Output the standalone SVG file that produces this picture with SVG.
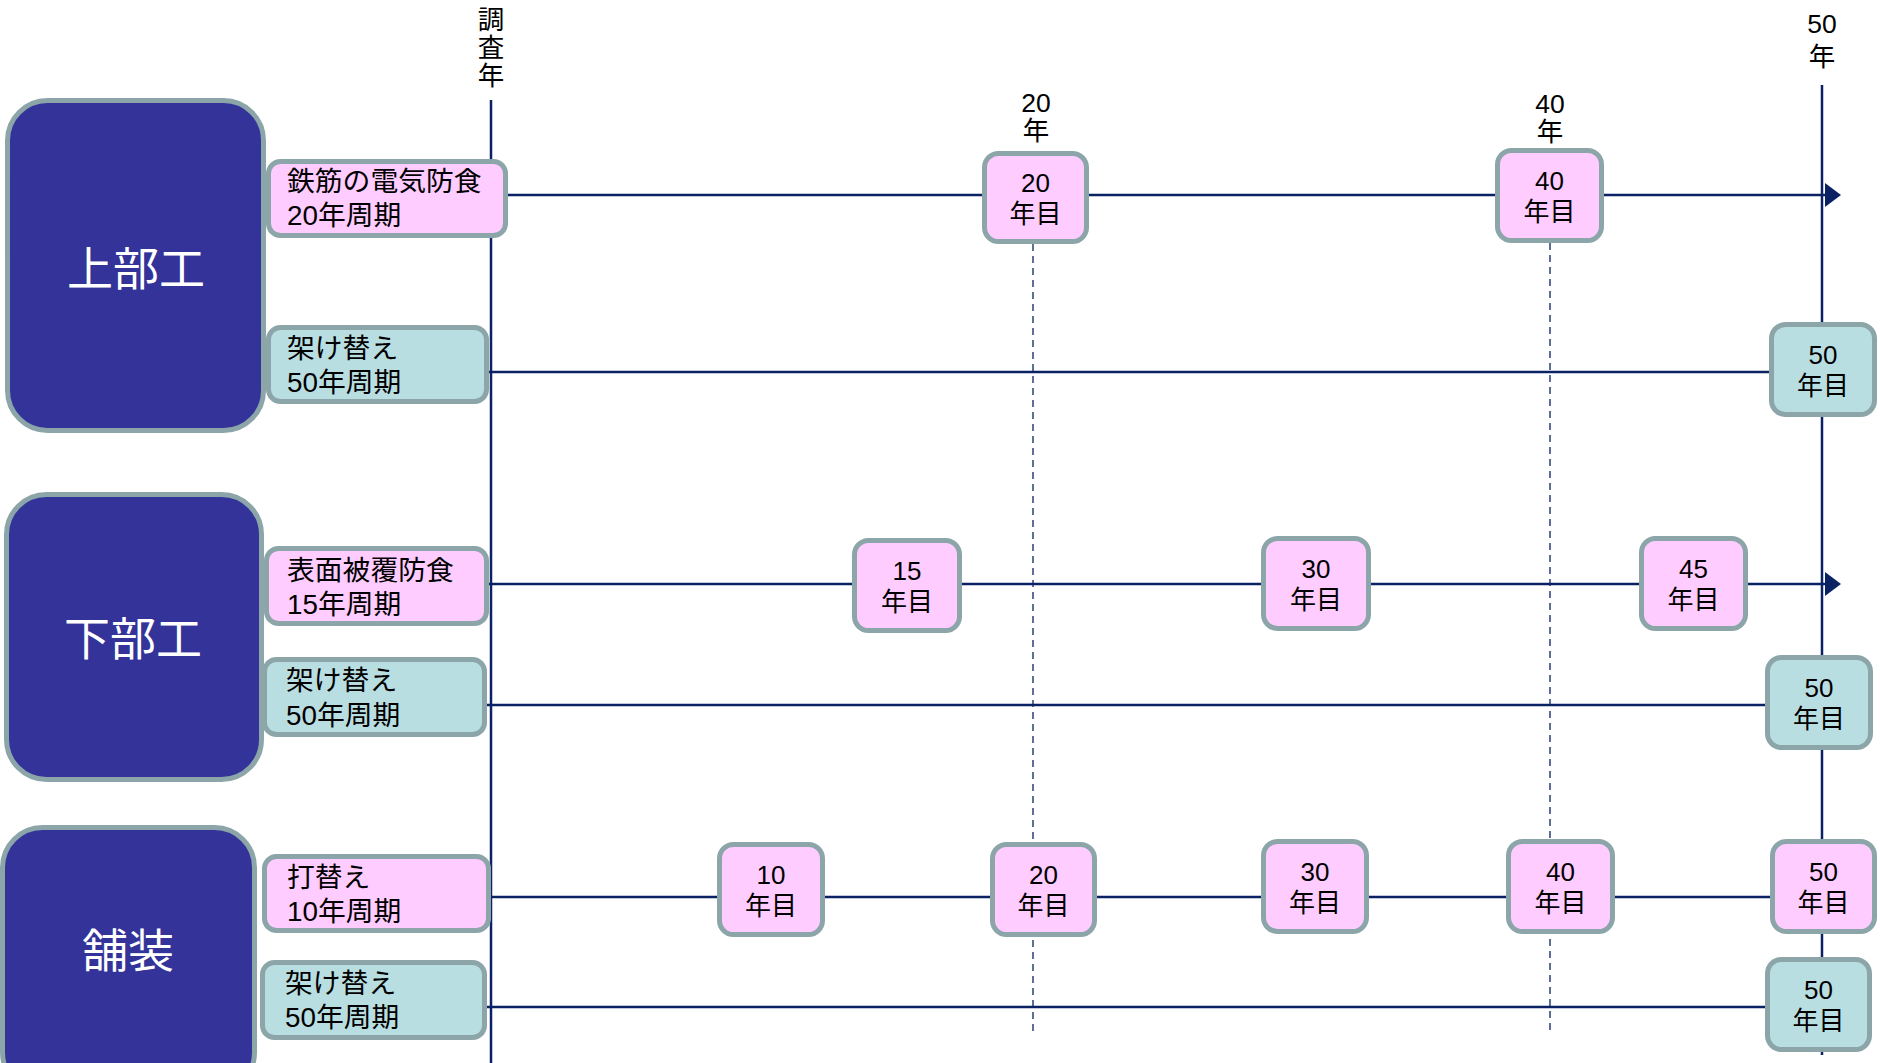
<svg xmlns="http://www.w3.org/2000/svg" width="1880" height="1063" viewBox="0 0 1880 1063">
<style>
text{font-family:"Liberation Sans","Noto Sans CJK JP",sans-serif;fill:#000}
.big rect{fill:#333399;stroke:#8CA5A8;stroke-width:5}
.big text{fill:#fff;font-size:46px;text-anchor:middle}
.pk rect{fill:#FFCCFF;stroke:#8CA5A8;stroke-width:5}
.bl rect{fill:#B9DEE2;stroke:#8CA5A8;stroke-width:5}
.lbl text{font-size:27.8px}
.yr text{font-size:26px;text-anchor:middle}
.top text{font-size:26.5px;text-anchor:middle}
.ln{stroke:#0A2264;stroke-width:2.5;fill:none}
.dash{stroke:#0A2264;stroke-width:1.3;stroke-dasharray:7 5;fill:none}
</style>
<defs>
<marker id="arr" markerUnits="userSpaceOnUse" markerWidth="17" markerHeight="26" refX="0" refY="12" orient="auto">
<path d="M0,0 L16,12 L0,24 z" fill="#0A2264"/>
</marker>
</defs>
<rect width="1880" height="1063" fill="#fff"/>

<g id="axis-labels" class="top">
<text x="491" y="29" font-size="22">調</text>
<text x="491" y="57" font-size="22">査</text>
<text x="491" y="85" font-size="22">年</text>
<text x="1036" y="112">20</text>
<text x="1036" y="140">年</text>
<text x="1550" y="113">40</text>
<text x="1550" y="141">年</text>
<text x="1822" y="33">50</text>
<text x="1822" y="66">年</text>
</g>

<g id="connectors">
<line class="ln" x1="491" y1="100" x2="491" y2="1063"/>
<line class="ln" x1="1822" y1="85" x2="1822" y2="1055"/>
<line class="dash" x1="1033" y1="244" x2="1033" y2="1033"/>
<line class="dash" x1="1550" y1="243" x2="1550" y2="1033"/>
<line class="ln" x1="506" y1="195" x2="1825" y2="195" marker-end="url(#arr)"/>
<line class="ln" x1="487" y1="372" x2="1771" y2="372"/>
<line class="ln" x1="487" y1="584" x2="1825" y2="584" marker-end="url(#arr)"/>
<line class="ln" x1="485" y1="705" x2="1767" y2="705"/>
<line class="ln" x1="489" y1="897" x2="1772" y2="897"/>
<line class="ln" x1="485" y1="1007" x2="1767" y2="1007"/>
</g>

<g id="n-jobu" class="big">
<rect x="7.5" y="100.5" width="256" height="330" rx="40"/>
<text x="136" y="285">上部工</text>
</g>
<g id="n-kabu" class="big">
<rect x="6.5" y="494.5" width="255" height="285" rx="40"/>
<text x="133" y="655">下部工</text>
</g>
<g id="n-hoso" class="big">
<rect x="2.5" y="827.5" width="252" height="265" rx="40"/>
<text x="128" y="967">舗装</text>
</g>

<g id="n-denki" class="pk lbl">
<rect x="268.5" y="161.5" width="237" height="74" rx="12"/>
<text x="287" y="191">鉄筋の電気防食</text>
<text x="287" y="225">20年周期</text>
</g>
<g id="n-kakekae1" class="bl lbl">
<rect x="268.5" y="327.5" width="218" height="74" rx="12"/>
<text x="287" y="358">架け替え</text>
<text x="287" y="392">50年周期</text>
</g>
<g id="n-hifuku" class="pk lbl">
<rect x="266.5" y="548.5" width="220" height="75" rx="12"/>
<text x="287" y="580">表面被覆防食</text>
<text x="287" y="614">15年周期</text>
</g>
<g id="n-kakekae2" class="bl lbl">
<rect x="264.5" y="659.5" width="220" height="75" rx="12"/>
<text x="286" y="690">架け替え</text>
<text x="286" y="725">50年周期</text>
</g>
<g id="n-uchikae" class="pk lbl">
<rect x="264.5" y="856.5" width="224" height="74" rx="12"/>
<text x="287" y="887">打替え</text>
<text x="287" y="921">10年周期</text>
</g>
<g id="n-kakekae3" class="bl lbl">
<rect x="262.5" y="962.5" width="222" height="75" rx="12"/>
<text x="285" y="993">架け替え</text>
<text x="285" y="1027">50年周期</text>
</g>

<g id="r1-20" class="pk yr">
<rect x="984.5" y="153.5" width="102" height="88" rx="14"/>
<text x="1035.5" y="192">20</text>
<text x="1035.5" y="223">年目</text>
</g>
<g id="r1-40" class="pk yr">
<rect x="1497.5" y="150.5" width="104" height="90" rx="14"/>
<text x="1549.5" y="190">40</text>
<text x="1549.5" y="221">年目</text>
</g>
<g id="r2-50" class="bl yr">
<rect x="1771.5" y="324.5" width="103" height="90" rx="14"/>
<text x="1823" y="364">50</text>
<text x="1823" y="395">年目</text>
</g>
<g id="r3-15" class="pk yr">
<rect x="854.5" y="540.5" width="105" height="90" rx="14"/>
<text x="907" y="580">15</text>
<text x="907" y="611">年目</text>
</g>
<g id="r3-30" class="pk yr">
<rect x="1263.5" y="538.5" width="105" height="90" rx="14"/>
<text x="1316" y="578">30</text>
<text x="1316" y="609">年目</text>
</g>
<g id="r3-45" class="pk yr">
<rect x="1641.5" y="538.5" width="104" height="90" rx="14"/>
<text x="1693.5" y="578">45</text>
<text x="1693.5" y="609">年目</text>
</g>
<g id="r4-50" class="bl yr">
<rect x="1767.5" y="657.5" width="103" height="90" rx="14"/>
<text x="1819" y="697">50</text>
<text x="1819" y="728">年目</text>
</g>
<g id="r5-10" class="pk yr">
<rect x="719.5" y="844.5" width="103" height="90" rx="14"/>
<text x="771" y="884">10</text>
<text x="771" y="915">年目</text>
</g>
<g id="r5-20" class="pk yr">
<rect x="992.5" y="844.5" width="102" height="90" rx="14"/>
<text x="1043.5" y="884">20</text>
<text x="1043.5" y="915">年目</text>
</g>
<g id="r5-30" class="pk yr">
<rect x="1263.5" y="841.5" width="103" height="90" rx="14"/>
<text x="1315" y="881">30</text>
<text x="1315" y="912">年目</text>
</g>
<g id="r5-40" class="pk yr">
<rect x="1508.5" y="841.5" width="104" height="90" rx="14"/>
<text x="1560.5" y="881">40</text>
<text x="1560.5" y="912">年目</text>
</g>
<g id="r5-50" class="pk yr">
<rect x="1772.5" y="841.5" width="102" height="90" rx="14"/>
<text x="1823.5" y="881">50</text>
<text x="1823.5" y="912">年目</text>
</g>
<g id="r6-50" class="bl yr">
<rect x="1767.5" y="959.5" width="102" height="90" rx="14"/>
<text x="1818.5" y="999">50</text>
<text x="1818.5" y="1030">年目</text>
</g>
</svg>
